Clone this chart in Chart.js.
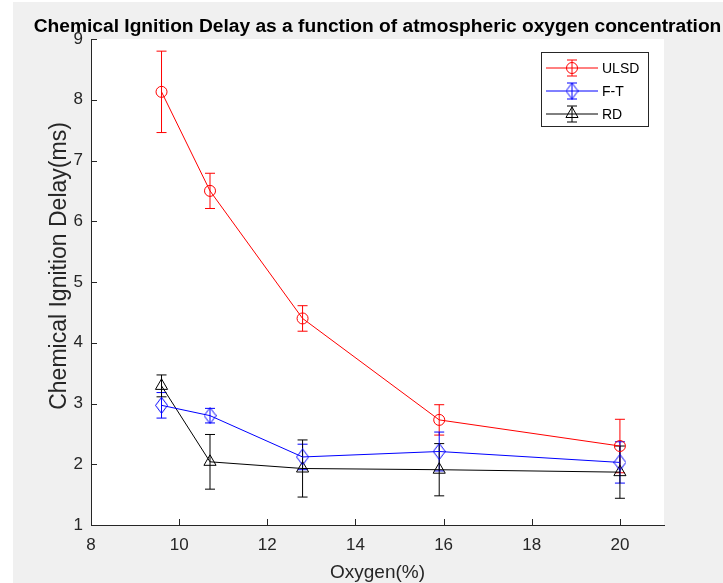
<!DOCTYPE html>
<html><head><meta charset="utf-8">
<script src="https://cdn.jsdelivr.net/npm/chart.js@4.4.1/dist/chart.umd.min.js"></script>
<style>html,body{margin:0;padding:0;background:#fff;overflow:hidden}#wrap{width:723px;height:583px;position:relative}</style>
</head><body><div id="wrap"><canvas id="c" width="723" height="583"></canvas></div>
<script>
// ---- data ----
const oxygen = [9.6, 10.7, 12.8, 15.9, 20];
const ulsd = [8.13, 6.50, 4.40, 2.73, 2.30];
const ulsdErr = [0.67, 0.29, 0.21, 0.25, 0.44];
const ft = [2.97, 2.80, 2.12, 2.21, 2.03];
const ftErr = [0.21, 0.12, 0.21, 0.32, 0.34];
const rd = [3.29, 2.04, 1.93, 1.91, 1.87];
const rdErr = [0.18, 0.45, 0.47, 0.43, 0.43];
const seriesNames = ['ULSD', 'F-T', 'RD'];
const xTicks = [8, 10, 12, 14, 16, 18, 20];
const yTicks = [1, 2, 3, 4, 5, 6, 7, 8, 9];
const titleText = 'Chemical Ignition Delay as a function of atmospheric oxygen concentration';
const xLabel = 'Oxygen(%)';
const yLabel = 'Chemical Ignition Delay(ms)';

const FONT = "'Liberation Sans', Arial, Helvetica, sans-serif";
const AX = '#262626';

// open, slightly tall diamond marker (MATLAB 'd')
function diamondMarker(color) {
  const c = document.createElement('canvas');
  c.width = 13; c.height = 17;
  const g = c.getContext('2d');
  g.strokeStyle = color; g.lineWidth = 1;
  g.beginPath();
  g.moveTo(6.5, 0.5); g.lineTo(12.5, 8.5); g.lineTo(6.5, 16.5); g.lineTo(0.5, 8.5); g.closePath();
  g.stroke();
  return c;
}

function pts(vals) { return oxygen.map((x, i) => ({ x: x, y: vals[i] })); }
function mk(label, vals, errs, color, style, r) {
  return {
    label: label, data: pts(vals), errors: errs,
    borderColor: color, backgroundColor: color, borderWidth: 1,
    pointStyle: style, pointRadius: r, pointBorderWidth: 1,
    pointBorderColor: color, pointBackgroundColor: 'rgba(0,0,0,0)',
    tension: 0, fill: false
  };
}

const bgPlugin = {
  id: 'bg',
  beforeDraw(chart) {
    const { ctx, chartArea: a } = chart;
    ctx.save();
    ctx.fillStyle = '#ffffff'; ctx.fillRect(0, 0, chart.width, chart.height);
    ctx.fillStyle = '#f0f0f0'; ctx.fillRect(13, 2, chart.width - 13, chart.height - 2);
    ctx.fillStyle = '#ffffff'; ctx.fillRect(a.left, a.top, a.right - a.left, a.bottom - a.top);
    ctx.restore();
  }
};

const errPlugin = {
  id: 'errbars',
  beforeDatasetsDraw(chart) {
    const { ctx } = chart;
    const xs = chart.scales.x, ys = chart.scales.y;
    ctx.save();
    ctx.lineWidth = 1;
    chart.data.datasets.forEach(ds => {
      ctx.strokeStyle = ds.borderColor;
      ds.data.forEach((p, j) => {
        const e = ds.errors[j];
        const px = xs.getPixelForValue(p.x);
        const t = ys.getPixelForValue(p.y + e);
        const b = ys.getPixelForValue(p.y - e);
        ctx.beginPath();
        ctx.moveTo(px, t); ctx.lineTo(px, b);
        ctx.moveTo(px - 5, t); ctx.lineTo(px + 5, t);
        ctx.moveTo(px - 5, b); ctx.lineTo(px + 5, b);
        ctx.stroke();
      });
    });
    ctx.restore();
  }
};

const axisDecor = {
  id: 'axisdecor',
  afterDraw(chart) {
    const { ctx, chartArea: a } = chart;
    const xs = chart.scales.x, ys = chart.scales.y;
    ctx.save();
    // inward ticks
    ctx.strokeStyle = AX; ctx.lineWidth = 1;
    ctx.beginPath();
    xTicks.forEach(v => { const p = Math.round(xs.getPixelForValue(v)) + 0.5; ctx.moveTo(p, a.bottom); ctx.lineTo(p, a.bottom - 6); });
    yTicks.forEach(v => { const p = Math.round(ys.getPixelForValue(v)) + 0.5; ctx.moveTo(a.left, p); ctx.lineTo(a.left + 6, p); });
    ctx.stroke();
    // chart title, centred over the axes
    ctx.fillStyle = '#000';
    ctx.font = 'bold 19.2px ' + FONT;
    ctx.textAlign = 'center'; ctx.textBaseline = 'alphabetic';
    ctx.fillText(titleText, (a.left + a.right) / 2, 32);
    // y axis label
    ctx.fillStyle = AX;
    ctx.font = '23px ' + FONT;
    ctx.textAlign = 'center'; ctx.textBaseline = 'middle';
    ctx.translate(60, a.top + (a.bottom - a.top) / 2 - 16);
    ctx.rotate(-Math.PI / 2);
    ctx.fillText(yLabel, 0, 0);
    ctx.restore();
  }
};

const legendPlugin = {
  id: 'mlegend',
  afterDraw(chart) {
    const { ctx, chartArea: a } = chart;
    const bx = a.right - 123, by = a.top + 13, bw = 107, bh = 74;
    ctx.save();
    ctx.fillStyle = '#fff'; ctx.fillRect(bx, by, bw, bh);
    ctx.strokeStyle = AX; ctx.lineWidth = 1;
    ctx.strokeRect(bx + 0.5, by + 0.5, bw, bh);
    chart.data.datasets.forEach((ds, i) => {
      const y = by + 16 + i * 23;
      const x0 = bx + 5, x1 = bx + 57, xm = bx + 31;
      ctx.strokeStyle = ds.borderColor; ctx.lineWidth = 1;
      ctx.beginPath();
      ctx.moveTo(x0, y); ctx.lineTo(x1, y);
      ctx.moveTo(xm, y - 8); ctx.lineTo(xm, y + 8);
      ctx.moveTo(xm - 5, y - 8); ctx.lineTo(xm + 5, y - 8);
      ctx.moveTo(xm - 5, y + 8); ctx.lineTo(xm + 5, y + 8);
      ctx.stroke();
      ctx.fillStyle = 'rgba(0,0,0,0)';
      Chart.helpers.drawPoint(ctx, { pointStyle: ds.pointStyle, radius: ds.pointRadius, borderWidth: 1, rotation: 0 }, xm, y);
      ctx.fillStyle = '#000';
      ctx.font = '14px ' + FONT;
      ctx.textBaseline = 'middle'; ctx.textAlign = 'left';
      ctx.fillText(ds.label, bx + 61, y + 1);
    });
    ctx.restore();
  }
};

new Chart(document.getElementById('c'), {
  type: 'line',
  data: {
    datasets: [
      mk(seriesNames[0], ulsd, ulsdErr, '#ff0000', 'circle', 5.5),
      mk(seriesNames[1], ft, ftErr, '#0000ff', diamondMarker('#0000ff'), 7),
      mk(seriesNames[2], rd, rdErr, '#000000', 'triangle', 7)
    ]
  },
  options: {
    responsive: false, animation: false, devicePixelRatio: 1,
    layout: { padding: { left: 0, right: 59, top: 39, bottom: 0 } },
    plugins: {
      legend: { display: false }, tooltip: { enabled: false },
      title: { display: false, text: titleText }
    },
    scales: {
      x: {
        type: 'linear', min: 8, max: 21,
        afterBuildTicks: s => { s.ticks = xTicks.map(v => ({ value: v })); },
        afterFit: s => { s.height = 58; },
        grid: { display: true, drawOnChartArea: false, drawTicks: false },
        border: { display: true, color: AX, width: 1 },
        ticks: { color: AX, font: { family: FONT, size: 17 }, padding: 10, maxRotation: 0, autoSkip: false },
        title: { display: true, text: xLabel, color: AX, font: { family: FONT, size: 19, lineHeight: 1 }, padding: { top: 0, bottom: 1 } }
      },
      y: {
        type: 'linear', min: 1, max: 9,
        afterBuildTicks: s => { s.ticks = yTicks.map(v => ({ value: v })); },
        afterFit: s => { s.width = 91; },
        grid: { display: true, drawOnChartArea: false, drawTicks: false },
        border: { display: true, color: AX, width: 1 },
        ticks: { color: AX, font: { family: FONT, size: 17 }, padding: 8, autoSkip: false },
        title: { display: false, text: yLabel }
      }
    }
  },
  plugins: [bgPlugin, errPlugin, axisDecor, legendPlugin]
});
</script>
</body></html>
